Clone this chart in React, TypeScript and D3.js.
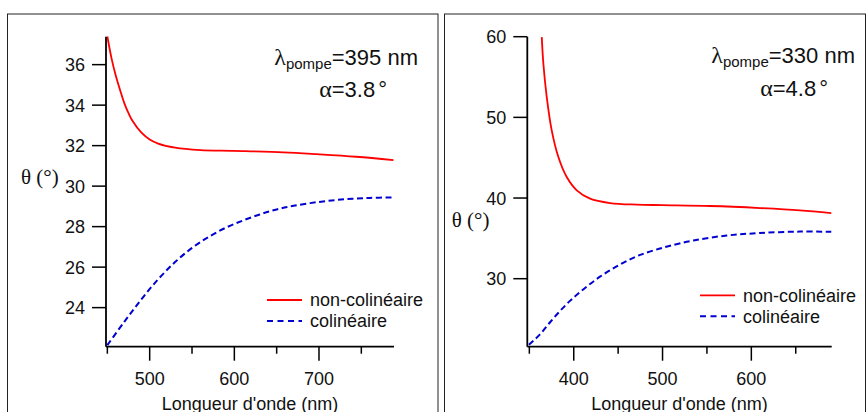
import React from "react";
import * as d3 from "d3";

// ---------- data ----------
const leftNonColX = [450, 455, 460, 465, 470, 475, 480, 490, 500, 510, 530, 560, 600, 658, 697, 744, 788];
const leftNonColY = [37.39, 36.3, 35.45, 34.75, 34.1, 33.6, 33.2, 32.65, 32.3, 32.1, 31.9, 31.78, 31.74, 31.67, 31.58, 31.45, 31.28];
const leftColX = [450, 470, 490, 510, 530, 550, 570, 590, 610, 630, 650, 670, 700, 730, 760, 788];
const leftColY = [22.15, 23.3, 24.4, 25.4, 26.25, 26.95, 27.5, 27.95, 28.3, 28.6, 28.85, 29.03, 29.22, 29.35, 29.42, 29.44];

const rightNonColX = [364, 365.8, 369.6, 375.2, 382.7, 392.1, 403.4, 418.4, 440.9, 470.9, 500, 553.5, 609.8, 654.8, 690];
const rightNonColY = [59.95, 56.65, 52.52, 48.39, 45.08, 42.6, 40.95, 39.92, 39.38, 39.18, 39.12, 39.01, 38.76, 38.48, 38.14];
const rightColX = [349.5, 362, 373.3, 384.6, 395.8, 407.1, 418.4, 429.6, 440.9, 452.1, 463.4, 474.7, 489.6, 506.5, 534.7, 572.3, 609.8, 654.8, 690];
const rightColY = [21.8, 23.1, 24.6, 26.0, 27.25, 28.35, 29.35, 30.25, 31.05, 31.75, 32.4, 32.95, 33.5, 34.02, 34.74, 35.35, 35.66, 35.84, 35.82];

const leftXMajor = [500, 600, 700];
const leftXMinor = [450, 550, 650, 750];
const leftYTicks = [24, 26, 28, 30, 32, 34, 36];
const rightXMajor = [400, 500, 600];
const rightXMinor = [350, 450, 550, 650];
const rightYTicks = [30, 40, 50, 60];

const seriesLabels = ["non-colinéaire", "colinéaire"];
const xTitle = "Longueur d'onde (nm)";
const yTitle = "θ (°)";
const leftPump = "=395 nm";
const leftAlpha = "=3.8";
const rightPump = "=330 nm";
const rightAlpha = "=4.8";

const SANS = "'Liberation Sans', Arial, Helvetica, sans-serif";
const SERIF = "'Liberation Serif', 'Times New Roman', serif";
const RED = "#ff0000";
const BLUE = "#0000d0";

type PanelProps = {
  frameX: number;
  frameW: number;
  xDomain: [number, number];
  xRange: [number, number];
  yDomain: [number, number];
  yRange: [number, number];
  xMajor: number[];
  xMinor: number[];
  yTicks: number[];
  redX: number[];
  redY: number[];
  blueX: number[];
  blueY: number[];
  yTitlePos: [number, number];
  pump: string;
  alpha: string;
  annotRight: number;
  annotBase: number;
  alphaRight: number;
  alphaBase: number;
  legendX: number;
  legendY: number;
};

function Panel(p: PanelProps) {
  const x = d3.scaleLinear().domain(p.xDomain).range(p.xRange);
  const y = d3.scaleLinear().domain(p.yDomain).range(p.yRange);
  const line = d3
    .line<[number, number]>()
    .x((d) => x(d[0]))
    .y((d) => y(d[1]))
    .curve(d3.curveCatmullRom.alpha(0.5));
  const red = line(p.redX.map((v, i) => [v, p.redY[i]]) as [number, number][]) || "";
  const blue = line(p.blueX.map((v, i) => [v, p.blueY[i]]) as [number, number][]) || "";
  const x0 = p.xRange[0];
  const x1 = p.xRange[1];
  const yb = p.yRange[0];
  const yt = p.yRange[1];
  return (
    <g>
      <rect x={p.frameX} y={14} width={p.frameW} height={420} fill="none" stroke="#222" strokeWidth={1} />
      {/* curves */}
      <path d={red} fill="none" stroke={RED} strokeWidth={1.8} />
      <path d={blue} fill="none" stroke={BLUE} strokeWidth={2} strokeDasharray="6,3.5" />
      {/* axes */}
      <line x1={x0} x2={x1} y1={yb} y2={yb} stroke="#000" strokeWidth={1.8} />
      <line x1={x0} x2={x0} y1={yb} y2={yt} stroke="#000" strokeWidth={1.8} />
      {p.xMajor.map((t) => (
        <g key={"M" + t}>
          <line x1={x(t)} x2={x(t)} y1={yb} y2={yb + 14} stroke="#000" strokeWidth={1.5} />
          <text x={x(t)} y={385} textAnchor="middle" fontFamily={SANS} fontSize={18} fill="#111">
            {t}
          </text>
        </g>
      ))}
      {p.xMinor.map((t) => (
        <line key={"m" + t} x1={x(t)} x2={x(t)} y1={yb} y2={yb + 7} stroke="#000" strokeWidth={1.5} />
      ))}
      {p.yTicks.map((t) => (
        <g key={"y" + t}>
          <line x1={x0 - 14} x2={x0} y1={y(t)} y2={y(t)} stroke="#000" strokeWidth={1.5} />
          <text x={x0 - 21} y={y(t)} dy="0.36em" textAnchor="end" fontFamily={SANS} fontSize={18} fill="#111">
            {t}
          </text>
        </g>
      ))}
      <text x={(x0 + x1) / 2} y={410} textAnchor="middle" fontFamily={SANS} fontSize={18} fill="#111">
        {xTitle}
      </text>
      <text x={p.yTitlePos[0]} y={p.yTitlePos[1]} fontFamily={SERIF} fontSize={21} fill="#111">
        {yTitle}
      </text>
      {/* annotation */}
      <text x={p.annotRight} y={p.annotBase} textAnchor="end" fill="#111">
        <tspan fontFamily={SERIF} fontSize={24}>λ</tspan>
        <tspan fontFamily={SANS} fontSize={15} dy={4}>pompe</tspan>
        <tspan fontFamily={SANS} fontSize={22} dy={-4}>{p.pump}</tspan>
      </text>
      <text x={p.alphaRight} y={p.alphaBase} textAnchor="end" fill="#111">
        <tspan fontFamily={SERIF} fontSize={24}>α</tspan>
        <tspan fontFamily={SANS} fontSize={22}>{p.alpha}</tspan>
        <tspan fontFamily={SANS} fontSize={22} dx={3}>°</tspan>
      </text>
      {/* legend */}
      <line x1={p.legendX} x2={p.legendX + 35} y1={p.legendY} y2={p.legendY} stroke={RED} strokeWidth={1.8} />
      <text x={p.legendX + 43} y={p.legendY} dy="0.36em" fontFamily={SANS} fontSize={18} fill="#111">
        {seriesLabels[0]}
      </text>
      <line
        x1={p.legendX}
        x2={p.legendX + 35}
        y1={p.legendY + 21}
        y2={p.legendY + 21}
        stroke={BLUE}
        strokeWidth={2}
        strokeDasharray="6,4.5"
      />
      <text x={p.legendX + 43} y={p.legendY + 21} dy="0.36em" fontFamily={SANS} fontSize={18} fill="#111">
        {seriesLabels[1]}
      </text>
    </g>
  );
}

export default function App() {
  return (
    <svg
      width={866}
      height={412}
      style={{ position: "absolute", left: 0, top: 0, background: "#fff" }}
    >
      <rect x={0} y={0} width={866} height={412} fill="#fff" />
      <Panel
        frameX={7.5}
        frameW={430.5}
        xDomain={[448.4, 788.6]}
        xRange={[106, 394]}
        yDomain={[22.07, 37.38]}
        yRange={[346.7, 36.7]}
        xMajor={leftXMajor}
        xMinor={leftXMinor}
        yTicks={leftYTicks}
        redX={leftNonColX}
        redY={leftNonColY}
        blueX={leftColX}
        blueY={leftColY}
        yTitlePos={[21, 184]}
        pump={leftPump}
        alpha={leftAlpha}
        annotRight={418}
        annotBase={65}
        alphaRight={387}
        alphaBase={97}
        legendX={267}
        legendY={300}
      />
      <Panel
        frameX={444.5}
        frameW={421}
        xDomain={[347.7, 690.5]}
        xRange={[527.3, 831.7]}
        yDomain={[21.57, 60]}
        yRange={[346.7, 36.7]}
        xMajor={rightXMajor}
        xMinor={rightXMinor}
        yTicks={rightYTicks}
        redX={rightNonColX}
        redY={rightNonColY}
        blueX={rightColX}
        blueY={rightColY}
        yTitlePos={[451.7, 227]}
        pump={rightPump}
        alpha={rightAlpha}
        annotRight={855}
        annotBase={63}
        alphaRight={828}
        alphaBase={96}
        legendX={700}
        legendY={295.3}
      />
    </svg>
  );
}
